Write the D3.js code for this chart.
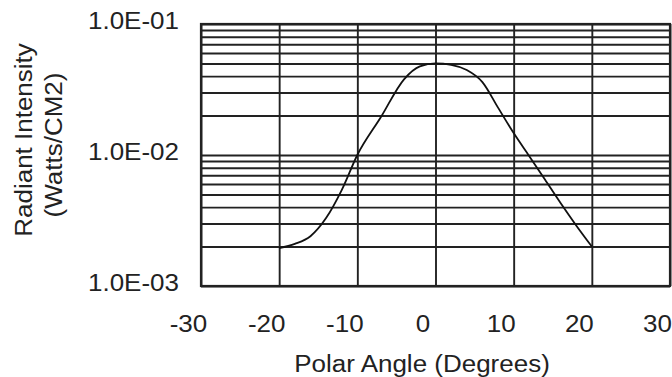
<!DOCTYPE html>
<html>
<head>
<meta charset="utf-8">
<script src="https://cdn.jsdelivr.net/npm/d3@7/dist/d3.min.js"></script>
<style>
  html, body { margin: 0; padding: 0; background: #fff; }
  svg { display: block; }
  text { font-family: "Liberation Sans", Arial, Helvetica, sans-serif; fill: #222; }
</style>
</head>
<body>
<svg id="chart" width="672" height="377"></svg>
<script>
// Radiant intensity vs. polar angle
const angles = [-20, -18, -16, -14, -12, -10, -7, -4, -2, 0, 2, 4, 6, 8, 10, 12, 14, 16, 18, 20];
const intensity = [0.00195, 0.0021, 0.0024, 0.0033, 0.0054, 0.0100, 0.0194, 0.038, 0.0475, 0.050,
                   0.0488, 0.0445, 0.036, 0.023, 0.0147, 0.0098, 0.0065, 0.0043, 0.0029, 0.0020];

const xTicks = [-30, -20, -10, 0, 10, 20, 30];
const yTickValues = [1e-3, 1e-2, 1e-1];
const yTickLabels = ["1.0E-03", "1.0E-02", "1.0E-01"];

const xTitle = "Polar Angle (Degrees)";
const yTitleLines = ["Radiant Intensity", "(Watts/CM2)"];

const svg = d3.select("#chart");
const margin = { left: 201, right: 2, top: 24, bottom: 91 };
const W = 672, H = 377;
const iw = W - margin.left - margin.right;
const ih = H - margin.top - margin.bottom;
const stretch = 1.13;      // wide lettering
const fontSize = 23;
const gridColor = "#222";

const x = d3.scaleLinear().domain([-30, 30]).range([0, iw]);
const y = d3.scaleLog().domain([1e-3, 1e-1]).range([ih, 0]);

const g = svg.append("g").attr("transform", `translate(${margin.left},${margin.top})`);

// horizontal log grid (1..9 in each decade)
const hGrid = g.append("g")
  .call(d3.axisLeft(y).tickValues(y.ticks()).tickSize(-iw).tickFormat(""));
hGrid.select(".domain").remove();
hGrid.selectAll("line").attr("stroke", gridColor).attr("stroke-width", 1.9);

// vertical grid every 10 degrees
const vGrid = g.append("g").attr("transform", `translate(0,${ih})`)
  .call(d3.axisBottom(x).tickValues(xTicks).tickSize(-ih).tickFormat(""));
vGrid.select(".domain").remove();
vGrid.selectAll("line").attr("stroke", gridColor).attr("stroke-width", 1.9);

// plot frame
g.append("rect")
  .attr("x", 0).attr("y", 0).attr("width", iw).attr("height", ih)
  .attr("fill", "none").attr("stroke", gridColor).attr("stroke-width", 2.2);

// x tick labels
const xAxis = g.append("g").attr("transform", `translate(0,${ih})`)
  .call(d3.axisBottom(x).tickValues(xTicks).tickSize(0).tickFormat(d => String(d)));
xAxis.select(".domain").remove();
xAxis.selectAll("text")
  .attr("x", 0).attr("y", 0).attr("dy", 0)
  .attr("transform", `translate(-13,46) scale(${stretch},1)`)
  .attr("text-anchor", "middle")
  .style("font-size", fontSize + "px")
  .style("font-family", null)
  .attr("fill", "#222");

// y tick labels
const yAxis = g.append("g")
  .call(d3.axisLeft(y).tickValues(yTickValues).tickSize(0)
    .tickFormat(d => yTickLabels[yTickValues.indexOf(d)]));
yAxis.select(".domain").remove();
yAxis.selectAll("text")
  .attr("x", 0).attr("y", 0).attr("dy", 0)
  .attr("transform", `translate(-22,4) scale(${stretch},1)`)
  .attr("text-anchor", "end")
  .style("font-size", fontSize + "px")
  .style("font-family", null)
  .attr("fill", "#222");

// intensity curve
const line = d3.line()
  .x((d, i) => x(angles[i]))
  .y(d => y(d))
  .curve(d3.curveMonotoneX);
g.append("path")
  .datum(intensity)
  .attr("d", line)
  .attr("fill", "none")
  .attr("stroke", "#111")
  .attr("stroke-width", 1.8);

// axis titles
svg.append("text")
  .attr("transform", `translate(422,372) scale(${stretch},1)`)
  .attr("text-anchor", "middle")
  .style("font-size", fontSize + "px")
  .text(xTitle);

const yTitlePos = [[32, 140], [62, 145]];
yTitleLines.forEach((t, i) => {
  svg.append("text")
    .attr("transform", `translate(${yTitlePos[i][0]},${yTitlePos[i][1]}) rotate(-90) scale(${stretch},1)`)
    .attr("text-anchor", "middle")
    .style("font-size", fontSize + "px")
    .text(t);
});
</script>
</body>
</html>
